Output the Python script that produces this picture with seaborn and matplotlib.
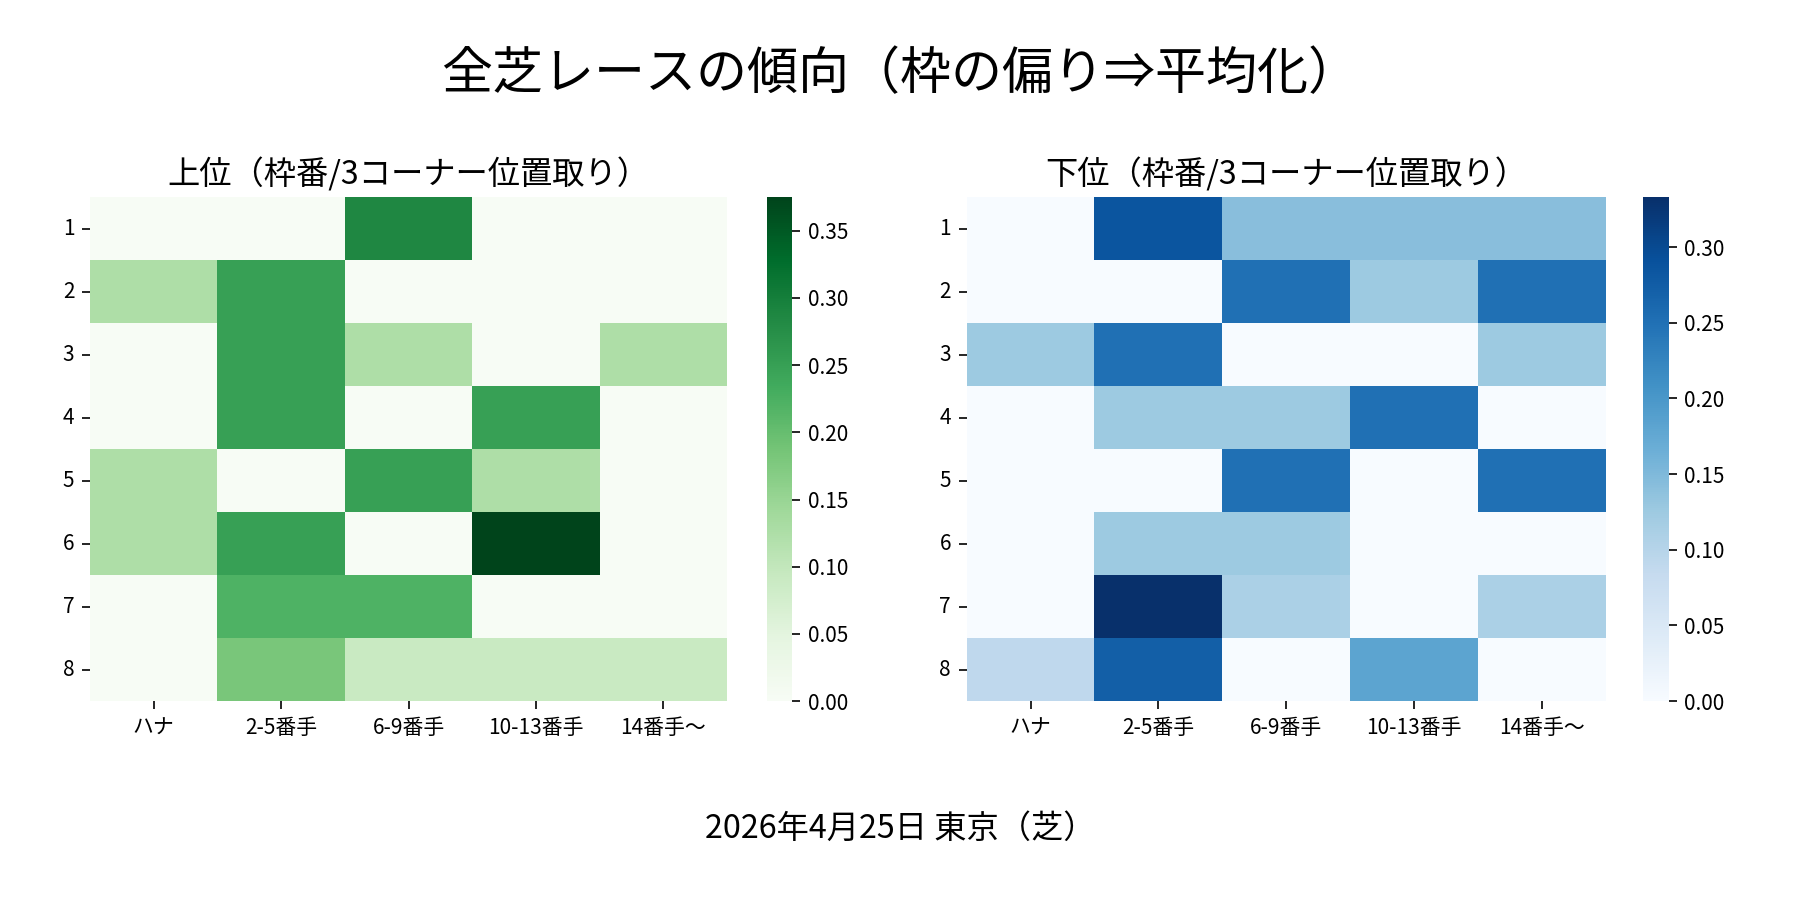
import numpy as np
import pandas as pd
import matplotlib
matplotlib.use("Agg")
import matplotlib.pyplot as plt
import seaborn as sns

sns.set_theme(style="white")
plt.rcParams['font.family'] = ['Noto Sans CJK JP', 'DejaVu Sans']
plt.rcParams['text.color'] = 'black'
plt.rcParams['xtick.color'] = 'black'
plt.rcParams['ytick.color'] = 'black'
plt.rcParams['axes.labelcolor'] = 'black'

gates = [1, 2, 3, 4, 5, 6, 7, 8]
positions = ['ハナ', '2-5番手', '6-9番手', '10-13番手', '14番手〜']

# 上位 (rows = 枠番, cols = 3コーナー位置取り)
top_1 = [0.0, 0.0, 0.286, 0.0, 0.0]
top_2 = [0.125, 0.25, 0.0, 0.0, 0.0]
top_3 = [0.0, 0.25, 0.125, 0.0, 0.125]
top_4 = [0.0, 0.25, 0.0, 0.25, 0.0]
top_5 = [0.125, 0.0, 0.25, 0.125, 0.0]
top_6 = [0.125, 0.25, 0.0, 0.375, 0.0]
top_7 = [0.0, 0.222, 0.222, 0.0, 0.0]
top_8 = [0.0, 0.182, 0.091, 0.091, 0.091]

# 下位
low_1 = [0.0, 0.286, 0.143, 0.143, 0.143]
low_2 = [0.0, 0.0, 0.25, 0.125, 0.25]
low_3 = [0.125, 0.25, 0.0, 0.0, 0.125]
low_4 = [0.0, 0.125, 0.125, 0.25, 0.0]
low_5 = [0.0, 0.0, 0.25, 0.0, 0.25]
low_6 = [0.0, 0.125, 0.125, 0.0, 0.0]
low_7 = [0.0, 0.333, 0.111, 0.0, 0.111]
low_8 = [0.091, 0.273, 0.0, 0.182, 0.0]

top_df = pd.DataFrame([top_1, top_2, top_3, top_4, top_5, top_6, top_7, top_8],
                      index=gates, columns=positions)
low_df = pd.DataFrame([low_1, low_2, low_3, low_4, low_5, low_6, low_7, low_8],
                      index=gates, columns=positions)

fig = plt.figure(figsize=(12, 6), dpi=150)

ax1 = fig.add_axes([0.050, 0.221, 0.354, 0.560])
cax1 = fig.add_axes([0.426, 0.221, 0.014, 0.560])
ax2 = fig.add_axes([0.537, 0.221, 0.355, 0.560])
cax2 = fig.add_axes([0.913, 0.221, 0.014, 0.560])

sns.heatmap(top_df, cmap='Greens', ax=ax1, cbar_ax=cax1)
sns.heatmap(low_df, cmap='Blues', ax=ax2, cbar_ax=cax2)

for ax, title in [(ax1, '上位（枠番/3コーナー位置取り）'), (ax2, '下位（枠番/3コーナー位置取り）')]:
    ax.set_title(title, fontsize=15.5, color='black')
    ax.set_xlabel('')
    ax.set_ylabel('')
    ax.tick_params(axis='both', labelsize=10, length=4, width=0.8, left=True, bottom=True)
    ax.set_yticklabels(ax.get_yticklabels(), rotation=0)
    ax.set_xticklabels(ax.get_xticklabels(), rotation=0)

for cax in [cax1, cax2]:
    cax.tick_params(labelsize=10, length=4, width=0.8, right=True)

fig.text(0.5, 0.917, '全芝レースの傾向（枠の偏り⇒平均化）', ha='center', va='center', fontsize=24.5)
fig.text(0.5, 0.079, '2026年4月25日 東京（芝）', ha='center', va='center', fontsize=15.5)

plt.savefig('out.png', dpi=150)
